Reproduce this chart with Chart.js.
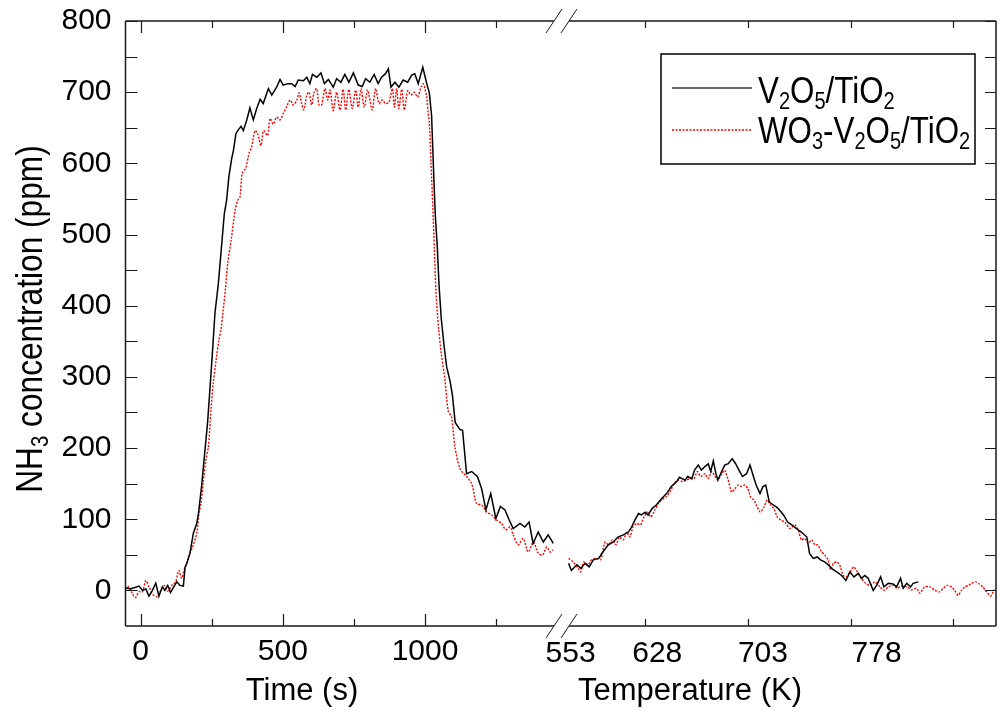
<!DOCTYPE html>
<html>
<head>
<meta charset="utf-8">
<title>NH3 concentration</title>
<script src="https://cdn.jsdelivr.net/npm/chart.js@4.4.0/dist/chart.umd.min.js"></script>
<style>
  html, body { margin: 0; padding: 0; background: #fff; }
  #wrap { width: 1001px; height: 710px; }
</style>
</head>
<body>
<div id="wrap"><canvas id="nh3Chart" width="1001" height="710"></canvas></div>
<script>
// ===== NH3 step (time axis) =====
const timeV = [
  -55, -38, -20, -6, 6, 18, 29, 41, 53, 64,
  76, 85, 95, 105, 116, 127, 138, 150, 156, 162,
  173, 185, 197, 203, 214, 226, 235, 244, 252, 261,
  273, 285, 294, 302, 310, 320, 326, 335, 343, 353,
  361, 373, 384, 396, 408, 420, 431, 449, 461, 478,
  490, 501, 519, 531, 543, 554, 572, 584, 595, 604,
  619, 634, 646, 660, 677, 689, 704, 718, 732, 748,
  765, 779, 791, 806, 821, 835, 847, 861, 871, 880,
  894, 908, 923, 939, 953, 964, 976, 992, 1006, 1015,
  1023, 1029, 1036, 1043, 1049, 1057, 1067, 1076, 1088, 1096,
  1106, 1123, 1132, 1146, 1164, 1184, 1199, 1214, 1231, 1249,
  1265, 1281, 1296, 1310, 1334, 1351, 1366, 1380, 1398, 1416,
  1433, 1451
];
const nh3V_time = [
  4, 2, 4, 6, 0, 2, -8, 0, 10, -8,
  5, 0, 7, -3, 5, 12, 7, 6, 33, 38,
  52, 80, 94, 108, 146, 197, 235, 286, 333, 389,
  431, 487, 529, 548, 581, 607, 618, 642, 647, 652,
  646, 661, 678, 661, 677, 690, 684, 705, 696, 707,
  718, 710, 712, 712, 708, 717, 716, 721, 712, 725,
  721, 727, 712, 718, 707, 719, 714, 725, 714, 727,
  710, 708, 719, 714, 725, 712, 721, 726, 733, 707,
  714, 707, 717, 714, 724, 726, 712, 735, 712, 699,
  667, 600, 527, 483, 430, 382, 343, 314, 294, 275,
  236, 226, 225, 164, 167, 160, 143, 113, 136, 101,
  118, 113, 99, 87, 94, 89, 96, 66, 82, 68,
  78, 66
];
const timeWV = [
  -55, -41, -29, -18, -6, 6, 18, 29, 41, 56,
  68, 83, 95, 109, 123, 134, 144, 153, 162, 173,
  185, 197, 205, 212, 220, 229, 238, 247, 255, 265,
  275, 282, 290, 296, 306, 318, 332, 341, 349, 357,
  369, 381, 390, 402, 411, 423, 432, 446, 455, 466,
  478, 490, 501, 513, 525, 537, 549, 557, 566, 574,
  584, 592, 601, 610, 619, 627, 636, 648, 658, 666,
  677, 689, 701, 712, 721, 732, 744, 756, 765, 775,
  786, 798, 814, 826, 838, 850, 861, 873, 885, 892,
  900, 908, 918, 927, 939, 950, 962, 974, 986, 994,
  1000, 1006, 1011, 1015, 1021, 1027, 1033, 1039, 1048, 1057,
  1069, 1082, 1093, 1105, 1123, 1146, 1164, 1181, 1199, 1217,
  1234, 1252, 1269, 1284, 1299, 1310, 1328, 1345, 1363, 1381,
  1398, 1414, 1428, 1439, 1451
];
const nh3WV_time = [
  0, 5, -5, -10, -2, -2, 14, 5, -5, -9,
  -2, 7, -1, 7, 12, 28, 17, 29, 38, 52,
  64, 80, 108, 122, 153, 183, 202, 253, 291, 323,
  352, 366, 394, 415, 459, 492, 534, 548, 553, 586,
  593, 614, 623, 646, 642, 625, 646, 639, 663, 655,
  665, 661, 670, 679, 689, 682, 689, 699, 684, 675,
  696, 700, 682, 700, 705, 682, 682, 705, 689, 703,
  674, 700, 675, 704, 675, 704, 677, 703, 679, 705,
  679, 703, 675, 705, 684, 689, 684, 686, 705, 679,
  705, 677, 704, 675, 702, 696, 700, 693, 707, 712,
  704, 693, 670, 658, 600, 541, 478, 415, 367, 333,
  299, 251, 244, 202, 171, 160, 150, 122, 120, 110,
  106, 99, 94, 85, 89, 78, 64, 73, 54, 68,
  52, 50, 61, 54, 57
];

// ===== NH3 desorption (temperature axis) =====
const tempV = [
  572, 574, 578, 581, 584, 587, 590, 594, 597, 601,
  604.6, 608, 612, 615.6, 618, 620.5, 623, 625, 628, 630,
  633, 636, 640, 643.6, 647, 651, 653, 657, 659, 662,
  664, 666.7, 669, 671.6, 674, 675.8, 677.7, 679.6, 681, 683.8,
  686, 688.6, 691.5, 694, 696.4, 699, 702, 704.5, 707, 709,
  711.8, 714, 716, 718.6, 721.5, 724, 726, 729, 732, 735,
  737, 739.7, 742, 746, 748, 750.7, 753.6, 756, 759, 761.7,
  764, 767.8, 771.4, 774.6, 777.5, 780.4, 783.6, 786, 788.4, 790.8,
  794.5, 797, 799.9, 802.3, 805.5, 809, 811.6, 814.5, 816.4, 819,
  821.8, 823.7, 827.4
];
const nh3V_temp = [
  38, 28, 36, 31, 38, 33, 43, 45, 54, 64,
  68, 75, 78, 82, 89, 99, 108, 106, 110, 106,
  115, 120, 129, 136, 146, 153, 159, 155, 160, 157,
  169, 176, 169, 174, 178, 167, 182, 164, 155, 167,
  176, 178, 185, 178, 169, 160, 164, 176, 160, 148,
  136, 146, 148, 124, 120, 117, 113, 106, 96, 92,
  89, 85, 82, 75, 52, 45, 47, 43, 40, 36,
  31, 26, 21, 14, 26, 19, 24, 17, 21, 17,
  0, 7, 19, 5, 10, 9, 5, 17, 3, 10,
  5, 10, 12
];
const tempWV = [
  572, 575.4, 579, 580.8, 583, 586, 588.8, 592.5, 595.4, 598.6,
  601, 604, 606.6, 609, 612, 614.4, 616.8, 619, 622, 624.6,
  626.5, 629.5, 632, 635, 637.5, 640, 643, 646, 649, 652,
  655.3, 658, 661, 663.6, 666, 668.5, 671.6, 674, 676.5, 679,
  681.3, 683.8, 686, 688.6, 691, 693.5, 696, 698.4, 700.8, 703,
  705, 707.4, 709.8, 712, 714.7, 717, 719.6, 722, 724.4, 726.9,
  730, 733.7, 737.3, 739.7, 742, 744.6, 747, 749.5, 752, 754,
  756.8, 759, 761.6, 763.4, 765.3, 767.8, 770, 772.6, 775, 777.5,
  780.4, 783.6, 786, 789, 792, 795.7, 799.4, 802.3, 805.5, 809,
  812, 815, 819, 822.6, 826, 828.6, 832, 836, 839.6, 843,
  845.7, 848.6, 851.8, 854, 856.6, 859, 861.5, 864, 866.4, 869.5,
  872, 874.5, 877.4, 880.3, 882.8
];
const nh3WV_temp = [
  45, 40, 31, 26, 40, 36, 43, 45, 43, 68,
  64, 71, 64, 75, 71, 82, 75, 89, 94, 92,
  101, 110, 103, 113, 122, 127, 131, 138, 150, 155,
  153, 155, 157, 157, 167, 160, 164, 157, 167, 160,
  155, 164, 169, 155, 138, 143, 148, 146, 148, 143,
  131, 127, 117, 110, 117, 127, 120, 115, 103, 99,
  96, 87, 92, 85, 71, 73, 66, 71, 64, 64,
  54, 50, 43, 29, 38, 40, 36, 21, 19, 26,
  33, 24, 17, 10, 7, 12, 5, 0, 5, 7,
  3, 6, 5, 1, 3, -4, 5, 5, 0, -2,
  3, 7, 5, 0, -7, 0, 5, 7, 10, 12,
  9, 5, -2, -8, 1
];

// ===== axis ticks =====
const yTicks = [0, 100, 200, 300, 400, 500, 600, 700, 800];
const timeTicks = [0, 500, 1000];
const timeMinorTicks = [250, 750, 1250];
const tempTicks = [628, 703, 778, 853];
const tempLabelValues = [553, 628, 703, 778];

const FONT = '"Liberation Sans", Arial, Helvetica, sans-serif';
const TIME_END = 1452;   // where the time axis is cut

function toPoints(xs, ys) {
  return xs.map((x, i) => ({ x: x, y: ys[i] }));
}

// text with subscripts, squeezed horizontally by sx
function richWidth(ctx, parts, size, sx) {
  let w = 0;
  parts.forEach(p => {
    ctx.font = (p[1] ? size * 0.64 : size) + 'px ' + FONT;
    w += ctx.measureText(p[0]).width * sx;
  });
  return w;
}
function drawRich(ctx, parts, x, y, size, sx) {
  let cx = x;
  parts.forEach(p => {
    const sub = p[1];
    ctx.font = (sub ? size * 0.64 : size) + 'px ' + FONT;
    ctx.save();
    ctx.translate(cx, y + (sub ? size * 0.16 : 0));
    ctx.scale(sx, 1);
    ctx.fillText(p[0], 0, 0);
    ctx.restore();
    cx += ctx.measureText(p[0]).width * sx;
  });
}

const framePlugin = {
  id: 'frame',
  afterDraw(chart) {
    const ctx = chart.ctx;
    const { left, right, top, bottom } = chart.chartArea;
    const xs = chart.scales.x, xt = chart.scales.xT, ys = chart.scales.y;
    const breakA = Math.round(xs.getPixelForValue(TIME_END));
    const breakB = breakA + 15;

    ctx.save();
    ctx.strokeStyle = '#1a1a1a';
    ctx.lineWidth = 1.5;
    ctx.beginPath();
    ctx.moveTo(left, top); ctx.lineTo(left, bottom);
    ctx.moveTo(right, top); ctx.lineTo(right, bottom);
    ctx.moveTo(left, top); ctx.lineTo(breakA, top);
    ctx.moveTo(breakB, top); ctx.lineTo(right, top);
    ctx.moveTo(left, bottom); ctx.lineTo(breakA, bottom);
    ctx.moveTo(breakB, bottom); ctx.lineTo(right, bottom);
    ctx.stroke();

    // inward ticks
    ctx.lineWidth = 1.2;
    ctx.beginPath();
    for (let v = 0; v <= 800; v += 50) {
      const py = Math.round(ys.getPixelForValue(v)) + 0.5;
      ctx.moveTo(left, py); ctx.lineTo(left + 12, py);
      ctx.moveTo(right, py); ctx.lineTo(right - 11, py);
    }
    timeTicks.forEach(v => {
      const px = Math.round(xs.getPixelForValue(v)) + 0.5;
      ctx.moveTo(px, bottom); ctx.lineTo(px, bottom - 12);
      ctx.moveTo(px, top); ctx.lineTo(px, top + 12);
    });
    timeMinorTicks.forEach(v => {
      const px = Math.round(xs.getPixelForValue(v)) + 0.5;
      ctx.moveTo(px, bottom); ctx.lineTo(px, bottom - 7);
      ctx.moveTo(px, top); ctx.lineTo(px, top + 7);
    });
    tempTicks.forEach(v => {
      const px = Math.round(xt.getPixelForValue(v)) + 0.5;
      ctx.moveTo(px, bottom); ctx.lineTo(px, bottom - 7);
      ctx.moveTo(px, top); ctx.lineTo(px, top + 7);
    });
    ctx.stroke();

    // break marks
    ctx.lineWidth = 1;
    ctx.beginPath();
    [breakA, breakB].forEach(cx => {
      [top, bottom].forEach(cy => {
        ctx.moveTo(cx - 8, cy + 12); ctx.lineTo(cx + 8, cy - 12);
      });
    });
    ctx.stroke();

    // temperature tick labels
    ctx.fillStyle = '#000';
    ctx.font = '30px ' + FONT;
    ctx.textAlign = 'center';
    ctx.textBaseline = 'alphabetic';
    const labelShift = [28, 12, 15, 26];
    tempLabelValues.forEach((v, i) => {
      ctx.fillText(String(v), xt.getPixelForValue(v) + labelShift[i], 662);
    });

    // axis titles
    ctx.font = '31px ' + FONT;
    ctx.fillText('Time (s)', 302, 700);
    ctx.fillText('Temperature (K)', 690, 700);

    // y title, rotated
    const yParts = [['NH', false], ['3', true], [' concentration (ppm)', false]];
    ctx.textAlign = 'left';
    ctx.save();
    ctx.translate(42, 319);
    ctx.rotate(-Math.PI / 2);
    const yw = richWidth(ctx, yParts, 36, 0.88);
    drawRich(ctx, yParts, -yw / 2, 0, 36, 0.88);
    ctx.restore();

    // legend
    const lx = 661, ly = 54, lw = 314, lh = 110;
    ctx.fillStyle = '#fff';
    ctx.fillRect(lx, ly, lw, lh);
    ctx.strokeStyle = '#000';
    ctx.lineWidth = 1.5;
    ctx.strokeRect(lx, ly, lw, lh);
    ctx.lineWidth = 1.3;
    ctx.strokeStyle = '#333';
    ctx.beginPath(); ctx.moveTo(672, 88); ctx.lineTo(752, 88); ctx.stroke();
    ctx.strokeStyle = '#ff0000';
    ctx.setLineDash([2, 1.5]);
    ctx.beginPath(); ctx.moveTo(672, 130); ctx.lineTo(752, 130); ctx.stroke();
    ctx.setLineDash([]);
    ctx.fillStyle = '#000';
    drawRich(ctx, [['V', false], ['2', true], ['O', false], ['5', true], ['/TiO', false], ['2', true]], 758, 103, 36, 0.87);
    drawRich(ctx, [['WO', false], ['3', true], ['-V', false], ['2', true], ['O', false], ['5', true], ['/TiO', false], ['2', true]], 758, 143, 36, 0.87);
    ctx.restore();
  }
};

const ctx = document.getElementById('nh3Chart').getContext('2d');
const nh3Chart = new Chart(ctx, {
  type: 'line',
  data: {
    datasets: [
      {
        label: 'V2O5/TiO2',
        data: toPoints(timeV, nh3V_time),
        xAxisID: 'x',
        borderColor: '#000',
        borderWidth: 1.5,
        pointRadius: 0,
        tension: 0
      },
      {
        label: 'V2O5/TiO2 (TPD)',
        data: toPoints(tempV, nh3V_temp),
        xAxisID: 'xT',
        borderColor: '#000',
        borderWidth: 1.5,
        pointRadius: 0,
        tension: 0
      },
      {
        label: 'WO3-V2O5/TiO2',
        data: toPoints(timeWV, nh3WV_time),
        xAxisID: 'x',
        borderColor: '#ff0000',
        borderWidth: 1.4,
        borderDash: [2, 1.5],
        pointRadius: 0,
        tension: 0.3
      },
      {
        label: 'WO3-V2O5/TiO2 (TPD)',
        data: toPoints(tempWV, nh3WV_temp),
        xAxisID: 'xT',
        borderColor: '#ff0000',
        borderWidth: 1.4,
        borderDash: [2, 1.5],
        pointRadius: 0,
        tension: 0.2
      }
    ]
  },
  options: {
    responsive: false,
    animation: false,
    devicePixelRatio: 1,
    layout: { padding: { top: 21, right: 5, left: 0, bottom: 0 } },
    plugins: {
      legend: { display: false },
      tooltip: { enabled: false }
    },
    scales: {
      x: {
        type: 'linear',
        position: 'bottom',
        min: -53.5,
        max: 3008,
        afterBuildTicks: s => { s.ticks = timeTicks.map(v => ({ value: v })); },
        afterFit: s => { s.height = 84; s.paddingLeft = 0; s.paddingRight = 0; },
        grid: { display: false, drawTicks: false },
        border: { display: false },
        ticks: {
          color: '#000',
          font: { family: FONT, size: 30 },
          padding: 8,
          maxRotation: 0,
          autoSkip: false,
          callback: v => String(v)
        }
      },
      xT: {
        type: 'linear',
        axis: 'x',
        position: 'bottom',
        display: false,
        min: 248.3,
        max: 884.2
      },
      y: {
        type: 'linear',
        min: -50,
        max: 800,
        afterBuildTicks: s => { s.ticks = yTicks.map(v => ({ value: v })); },
        afterFit: s => { s.width = 125.5; s.paddingTop = 0; s.paddingBottom = 0; },
        grid: { display: false, drawTicks: false },
        border: { display: false },
        ticks: {
          color: '#000',
          font: { family: FONT, size: 30 },
          padding: 14,
          callback: v => String(v)
        }
      }
    }
  },
  plugins: [framePlugin]
});
</script>
</body>
</html>
